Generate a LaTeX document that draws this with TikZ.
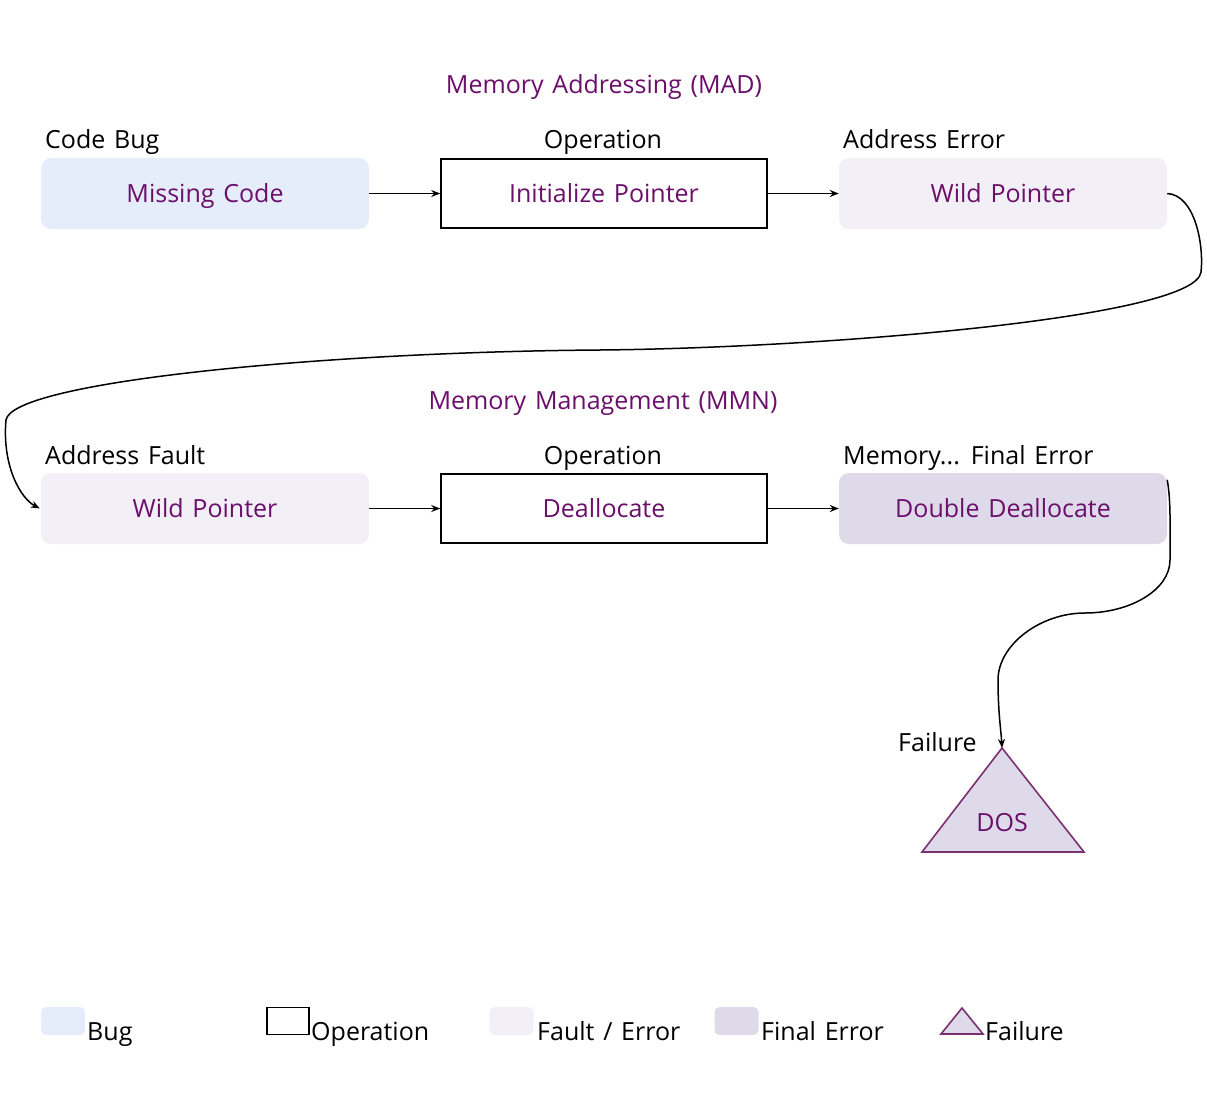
\documentclass[tikz,border=0pt]{standalone}
\usepackage{fontspec}
\setmainfont{Open Sans}[WordSpace=1.35]
\usetikzlibrary{arrows.meta}
\definecolor{txtpurple}{HTML}{6B0F6B}
\definecolor{bugfill}{HTML}{E6EDFA}
\definecolor{faultfill}{HTML}{F2EFF7}
\definecolor{finalfill}{HTML}{DEDAE9}
\definecolor{failedge}{HTML}{7A3070}
\tikzset{
  every node/.style={font=\fontsize{25}{29}\selectfont, inner sep=0pt},
  box/.style={minimum width=328pt, minimum height=71pt, rounded corners=10pt,
              text=txtpurple, text height=17.5pt, text depth=0pt},
  bugbox/.style={box, fill=bugfill},
  faultbox/.style={box, fill=faultfill},
  finalbox/.style={box, fill=finalfill},
  opbox/.style={minimum width=326pt, minimum height=69pt, draw=black, line width=1.6pt,
                fill=white, text=txtpurple, text height=17.5pt, text depth=0pt},
  heading/.style={text=txtpurple, anchor=base},
  tag/.style={text=black, anchor=base west},
  flow/.style={line width=1.5pt, -{Stealth[length=9pt,width=7pt]}},
  failtri/.style={fill=finalfill, draw=failedge, line width=1.6pt, line join=miter},
  keysq/.style={minimum width=44pt, minimum height=28pt, rounded corners=5pt},
}
\begin{document}
\begin{tikzpicture}[x=1pt,y=-1pt]
\useasboundingbox (0,0) rectangle (1207,1097);

% section headings
\node[heading] (madtitle) at (604,94) {Memory Addressing (MAD)};
\node[heading] (mmntitle) at (603,409) {Memory Management (MMN)};

% first row
\node[bugbox]   (mc)  at (205,193.5) {Missing Code};
\node[opbox]    (ip)  at (604,193.5) {Initialize Pointer};
\node[faultbox] (wp1) at (1003,193.5) {Wild Pointer};
\node[tag] (lcb) at (45,149) {Code Bug};
\node[anchor=base] (lop1) at (603,149) {Operation};
\node[tag] (lae) at (843,149) {Address Error};

% second row
\node[faultbox] (wp2) at (205,508.5) {Wild Pointer};
\node[opbox]    (dl)  at (604,508.5) {Deallocate};
\node[finalbox] (dd)  at (1003,508.5) {Double Deallocate};
\node[tag] (laf) at (45,464) {Address Fault};
\node[anchor=base] (lop2) at (603,464) {Operation};
\node[tag] (lfe) at (843,464) {Memory... Final Error};

% failure
\coordinate (dosapex) at (1002,748);
\draw[failtri] (dosapex) -- (1084,852) -- (922,852) -- cycle;
\node[text=txtpurple, anchor=base] (dos) at (1002,831) {DOS};
\node[tag] (lfail) at (898,751) {Failure};

% connectors
\draw[flow] (mc.east) -- (ip.west);
\draw[flow] (ip.east) -- (wp1.west);
\draw[flow] (wp2.east) -- (dl.west);
\draw[flow] (dl.east) -- (dd.west);
\draw[flow] (wp1.east) .. controls (1195,195) and (1204,245) .. (1201,272)
  .. controls (1196,318) and (820,348) .. (600,350)
  .. controls (320,352) and (12,382) .. (6,420)
  .. controls (2,465) and (20,498) .. ([xshift=-1pt]wp2.west);
\draw[flow] ([yshift=-7pt]dd.north east) .. controls (1171,500) and (1170,530) .. (1170,560)
  .. controls (1170,590) and (1130,613) .. (1085,613)
  .. controls (1040,613) and (998,645) .. (998,680)
  .. controls (998,712) and (1001,730) .. (dosapex);

% key
\node[keysq, fill=bugfill] (kbug) at (63,1021) {};
\node[tag] (tbug) at (87,1040) {Bug};
\node[keysq, draw=black, line width=1.6pt, rounded corners=0pt, minimum width=42pt, minimum height=27pt] (kop) at (288,1021) {};
\node[tag] (top) at (311,1040) {Operation};
\node[keysq, fill=faultfill] (kfault) at (511.5,1021) {};
\node[tag] (tfault) at (537,1040) {Fault / Error};
\node[keysq, fill=finalfill] (kfinal) at (736.5,1021) {};
\node[tag] (tfinal) at (761,1040) {Final Error};
\coordinate (kfailapex) at (962,1008);
\draw[failtri] (kfailapex) -- (983,1034) -- (941,1034) -- cycle;
\node[tag] (tfailk) at (985,1040) {Failure};
\end{tikzpicture}
\end{document}
